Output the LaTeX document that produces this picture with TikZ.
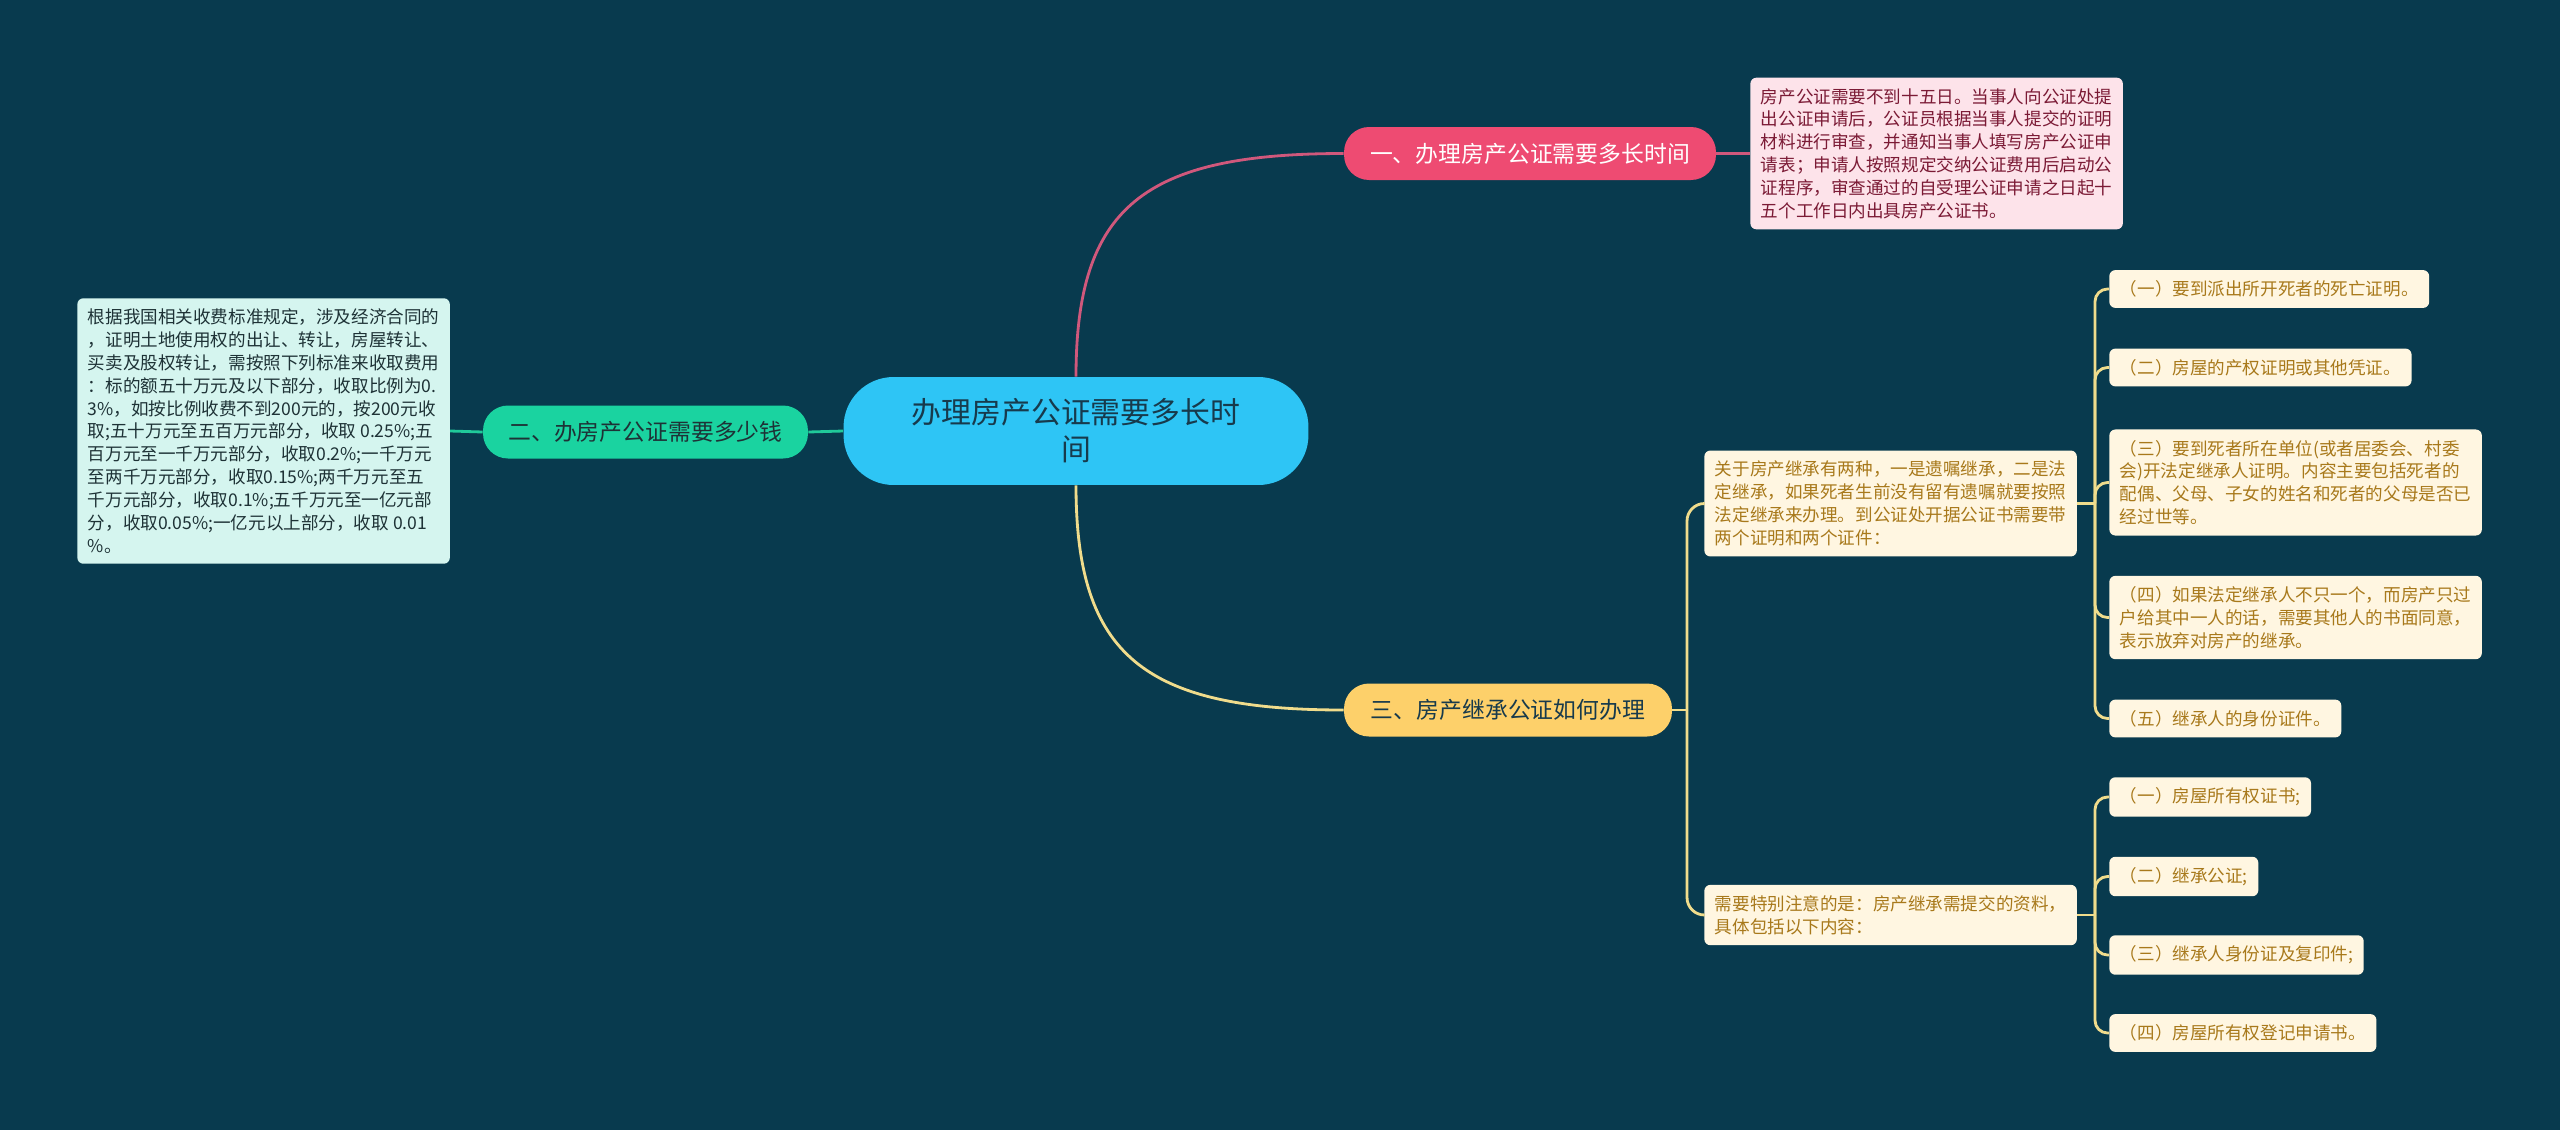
\documentclass[tikz,border=0pt]{standalone}
\usepackage{fontspec}
\setmainfont{Noto Sans CJK SC}
\usepackage{tikz}
\definecolor{bgnavy}{HTML}{083A4E}
\definecolor{rootblue}{HTML}{2EC5F5}
\definecolor{rootink}{HTML}{173A4C}
\definecolor{pinktopic}{HTML}{EE4B72}
\definecolor{pinkline}{HTML}{D0587C}
\definecolor{pinknote}{HTML}{FDE3EA}
\definecolor{pinkink}{HTML}{7B1A35}
\definecolor{greentopic}{HTML}{1AD3A0}
\definecolor{greenline}{HTML}{20C99A}
\definecolor{greennote}{HTML}{D5F5EF}
\definecolor{greenink}{HTML}{1E3236}
\definecolor{yellowtopic}{HTML}{FDD06A}
\definecolor{yellowline}{HTML}{F0DC8C}
\definecolor{creamnote}{HTML}{FFF6E1}
\definecolor{goldink}{HTML}{A8791B}

\begin{document}
\begin{tikzpicture}[x=0.02cm, y=-0.02cm,
  topic/.style={rounded corners=0.5cm, minimum height=1.06cm, inner sep=0pt,
    font=\fontsize{13}{16}\selectfont},
  note/.style={rounded corners=0.12cm, inner sep=6pt, anchor=west, align=left,
    font=\fontsize{10}{13}\selectfont},
  leaf/.style={note, fill=creamnote, text=goldink},
  link/.style={line width=1.6pt},
]
  \fill[bgnavy] (0,0) rectangle (2560,1130);
  \useasboundingbox (0,0) rectangle (2560,1130);

  % centre
  \node[fill=rootblue, text=rootink, rounded corners=1.0cm, minimum width=9.3cm,
    minimum height=2.16cm, align=center, font=\fontsize{17}{21}\selectfont]
    (root) at (1076,431) {办理房产公证需要多长时\\间};

  % one
  \node[topic, fill=pinktopic, text=white, minimum width=7.44cm]
    (t1) at (1530,153.5) {一、办理房产公证需要多长时间};
  \node[note, fill=pinknote, text=pinkink] (d1) at (1750,153.5)
    {房产公证需要不到十五日。当事人向公证处提\\出公证申请后，公证员根据当事人提交的证明\\材料进行审查，并通知当事人填写房产公证申\\请表；申请人按照规定交纳公证费用后启动公\\证程序，审查通过的自受理公证申请之日起十\\五个工作日内出具房产公证书。};

  % two
  \node[topic, fill=greentopic, text=greenink, minimum width=6.5cm]
    (t2) at (645.5,432) {二、办房产公证需要多少钱};
  \node[note, fill=greennote, text=greenink] (d2) at (77,431)
    {根据我国相关收费标准规定，涉及经济合同的\\，证明土地使用权的出让、转让，房屋转让、\\买卖及股权转让，需按照下列标准来收取费用\\：标的额五十万元及以下部分，收取比例为0.\\3\%，如按比例收费不到200元的，按200元收\\取;五十万元至五百万元部分，收取 0.25\%;五\\百万元至一千万元部分，收取0.2\%;一千万元\\至两千万元部分，收取0.15\%;两千万元至五\\千万元部分，收取0.1\%;五千万元至一亿元部\\分，收取0.05\%;一亿元以上部分，收取 0.01\\\%。};

  % three
  \node[topic, fill=yellowtopic, text=rootink, minimum width=6.56cm]
    (t3) at (1508,710) {三、房产继承公证如何办理};
  \node[leaf] (s1) at (1704,503.5)
    {关于房产继承有两种，一是遗嘱继承，二是法\\定继承，如果死者生前没有留有遗嘱就要按照\\法定继承来办理。到公证处开据公证书需要带\\两个证明和两个证件：};
  \node[leaf] (s2) at (1704,915)
    {需要特别注意的是：房产继承需提交的资料，\\具体包括以下内容：};

  \node[leaf] (l1) at (2109,289) {（一）要到派出所开死者的死亡证明。};
  \node[leaf] (l2) at (2109,367.5) {（二）房屋的产权证明或其他凭证。};
  \node[leaf] (l3) at (2109,482.5)
    {（三）要到死者所在单位(或者居委会、村委\\会)开法定继承人证明。内容主要包括死者的\\配偶、父母、子女的姓名和死者的父母是否已\\经过世等。};
  \node[leaf] (l4) at (2109,617.5)
    {（四）如果法定继承人不只一个，而房产只过\\户给其中一人的话，需要其他人的书面同意，\\表示放弃对房产的继承。};
  \node[leaf] (l5) at (2109,718.5) {（五）继承人的身份证件。};

  \node[leaf] (m1) at (2109,797) {（一）房屋所有权证书;};
  \node[leaf] (m2) at (2109,876.5) {（二）继承公证;};
  \node[leaf] (m3) at (2109,955) {（三）继承人身份证及复印件;};
  \node[leaf] (m4) at (2109,1033) {（四）房屋所有权登记申请书。};

  % links
  \draw[link, pinkline] (root.north) .. controls +(0,-170) and +(-200,0) .. (t1.west);
  \draw[link, pinkline] (t1.east) -- (d1.west);
  \draw[link, greenline] (root.west) -- (t2.east);
  \draw[link, greenline] (t2.west) -- (d2.east);
  \draw[link, yellowline] (root.south) .. controls +(0,170) and +(-200,0) .. (t3.west);

  \coordinate (j3) at (1687,710);
  \coordinate (k1) at (2095,503.5);
  \coordinate (k2) at (2095,915);
  \draw[link, yellowline] (t3.east) -- (j3);
  \draw[link, yellowline, rounded corners=0.35cm] (j3) |- (s1.west);
  \draw[link, yellowline, rounded corners=0.35cm] (j3) |- (s2.west);
  \draw[link, yellowline] (s1.east) -- (k1);
  \draw[link, yellowline] (s2.east) -- (k2);
  \foreach \n in {l1,l2,l3,l4,l5}
    \draw[link, yellowline, rounded corners=0.25cm] (k1) |- (\n.west);
  \foreach \n in {m1,m2,m3,m4}
    \draw[link, yellowline, rounded corners=0.25cm] (k2) |- (\n.west);
\end{tikzpicture}
\end{document}
